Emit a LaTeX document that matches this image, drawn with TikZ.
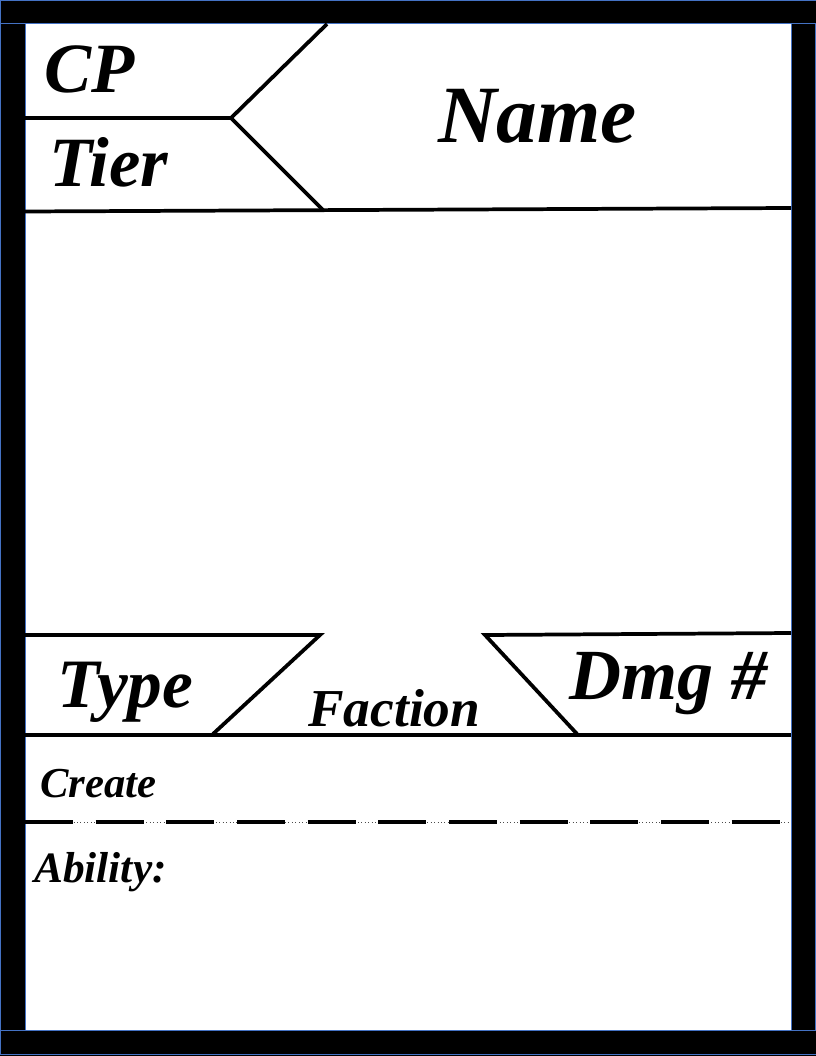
\documentclass[tikz,border=0pt]{standalone}
\usepackage{fontspec}
\setmainfont{Liberation Serif}
\begin{document}
\begin{tikzpicture}[x=0.75pt,y=-0.75pt,
  bar/.style={fill=black,draw={rgb,255:red,68;green,114;blue,196},line width=0.75pt},
  rule/.style={line width=2.8pt,line join=miter},
  lbl/.style={inner sep=0pt,anchor=base west,font=\bfseries\itshape}]
\useasboundingbox (0,0) rectangle (816,1056);
% frame
\fill[black] (0,1030) rectangle (816,1056);
\path[bar] (0,0.5) rectangle (816,24);
\path[bar] (0.5,24) rectangle (25,1030);
\path[bar] (791,24) rectangle (815.5,1030);
\path[bar] (0,1030) rectangle (816,1054);
% header
\coordinate (hl) at (25,118);
\coordinate (hv) at (231,118);
\coordinate (ht) at (327,24);
\coordinate (hb) at (323,210);
\coordinate (bl) at (25,211.5);
\coordinate (br) at (791,208);
\draw[rule] (hl) -- (hv);
\draw[rule] (ht) -- (hv) -- (hb);
\draw[rule] (bl) -- (br);
\node[lbl,font=\fontsize{53}{60}\selectfont\bfseries\itshape] (cp) at (44,93) {CP};
\node[lbl,font=\fontsize{53}{60}\selectfont\bfseries\itshape] (tier) at (49,186) {Tier};
\node[lbl,font=\fontsize{61}{70}\selectfont\bfseries\itshape] (name) at (438,142) {Name};
% lower header
\coordinate (tl) at (25,635);
\coordinate (tr) at (320,635);
\coordinate (td) at (213,734);
\coordinate (ll) at (25,735);
\coordinate (lr) at (791,735);
\coordinate (dl) at (485,635);
\coordinate (dr) at (791,633);
\coordinate (dd) at (578,735);
\draw[rule] (tl) -- (tr) -- (td);
\draw[rule] (ll) -- (lr);
\draw[rule] (dd) -- (dl) -- (dr);
\node[lbl,font=\fontsize{52}{60}\selectfont\bfseries\itshape] (type) at (57,707) {Type};
\node[lbl,font=\fontsize{40}{46}\selectfont\bfseries\itshape] (faction) at (308,726) {Faction};
\node[lbl,font=\fontsize{54}{62}\selectfont\bfseries\itshape] (dmg) at (569,699) {Dmg \#};
% create / ability
\coordinate (sl) at (25,822);
\coordinate (sr) at (791,822);
\draw[line width=0.6pt,dotted,black!70] (sl) -- (sr);
\draw[line width=3.2pt,dash pattern=on 36pt off 17pt] (sl) -- (sr);
\node[lbl,font=\fontsize{32}{38}\selectfont\bfseries\itshape] (create) at (40,797) {Create};
\node[lbl,font=\fontsize{32.5}{38}\selectfont\bfseries\itshape] (ability) at (34,882) {Ability:};
\end{tikzpicture}
\end{document}
